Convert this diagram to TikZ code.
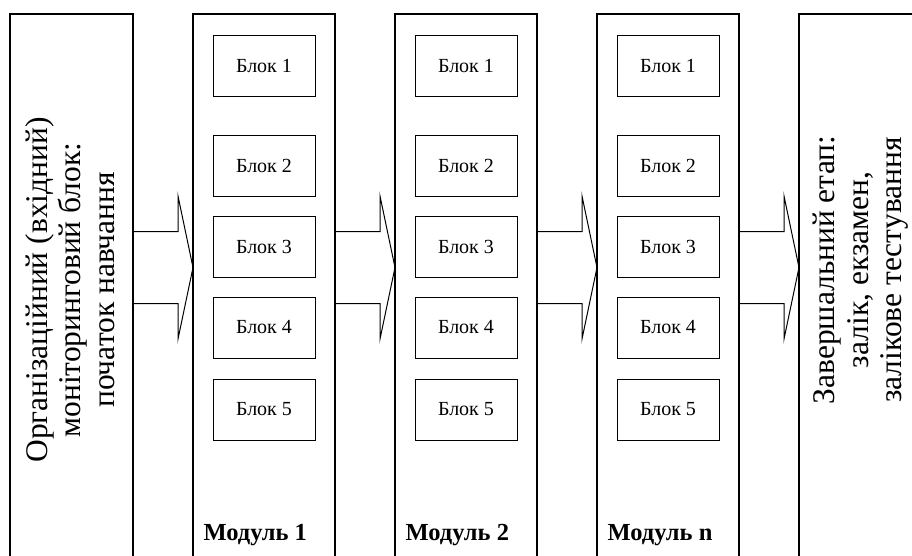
\documentclass[tikz,border=0pt]{standalone}
\usepackage{fontspec}
\setmainfont{Liberation Serif}
\usetikzlibrary{calc}
\newcommand\bigtxt{\fontsize{31.5}{33.5}\selectfont}
\newcommand\blockarrow[2]{%
  \draw[arr] (#1.east |- 0,231.5) -- ($(#2.west |- 0,231.5)+(-15,0)$)
     -- ($(#2.west |- 0,196)+(-15,0)$) -- (#2.west |- 0,267.5)
     -- ($(#2.west |- 0,339)+(-15,0)$) -- ($(#2.west |- 0,303.5)+(-15,0)$)
     -- (#1.east |- 0,303.5);}
\begin{document}
\begin{tikzpicture}[x=1pt,y=-1pt,
  colbox/.style={draw, line width=1.1pt, minimum width=#1, minimum height=640pt,
     anchor=north west, inner sep=0pt, outer sep=0pt},
  blok/.style={draw, line width=1pt, anchor=north west, minimum width=102pt,
     minimum height=61pt, inner sep=0pt, outer sep=0pt, font=\fontsize{20}{23}\selectfont},
  modlabel/.style={anchor=base west, font=\bfseries\fontsize{24.5}{28}\selectfont},
  bigtext/.style={rotate=90, align=center, font=\bigtxt},
  arr/.style={line width=1pt, line join=miter}]
\clip (0,0) rectangle (912,555);
\fill[white] (0,0) rectangle (912,555);
% left box
\node[colbox=123pt] (L) at (10,14) {};
\node[bigtext] (Lt) at (70,290) {Організаційний (вхідний)\\моніторинговий блок:\\початок навчання};
% modules
\foreach \nm/\xx/\lab in {m1/193/1, m2/395/2, mn/597/n}{
  \node[colbox=142pt] (\nm) at (\xx,14) {};
  \foreach \k/\yy in {1/21, 2/121, 3/202, 4/283, 5/365}{
    \node[blok] (\nm b\k) at ($(\nm.north west)+(20,\yy)$) {Блок \k};
  }
  \node[modlabel] (\nm lab) at ($(\nm.north west)+(7,526)$) {Модуль \lab};
}
% right box
\node[colbox=200pt] (R) at (799,14) {};
\node[bigtext] (Rt) at (861,270) {Завершальний етап:\\залік, екзамен,\\залікове тестування};
% arrows
\blockarrow{L}{m1}
\blockarrow{m1}{m2}
\blockarrow{m2}{mn}
\blockarrow{mn}{R}
\end{tikzpicture}
\end{document}
